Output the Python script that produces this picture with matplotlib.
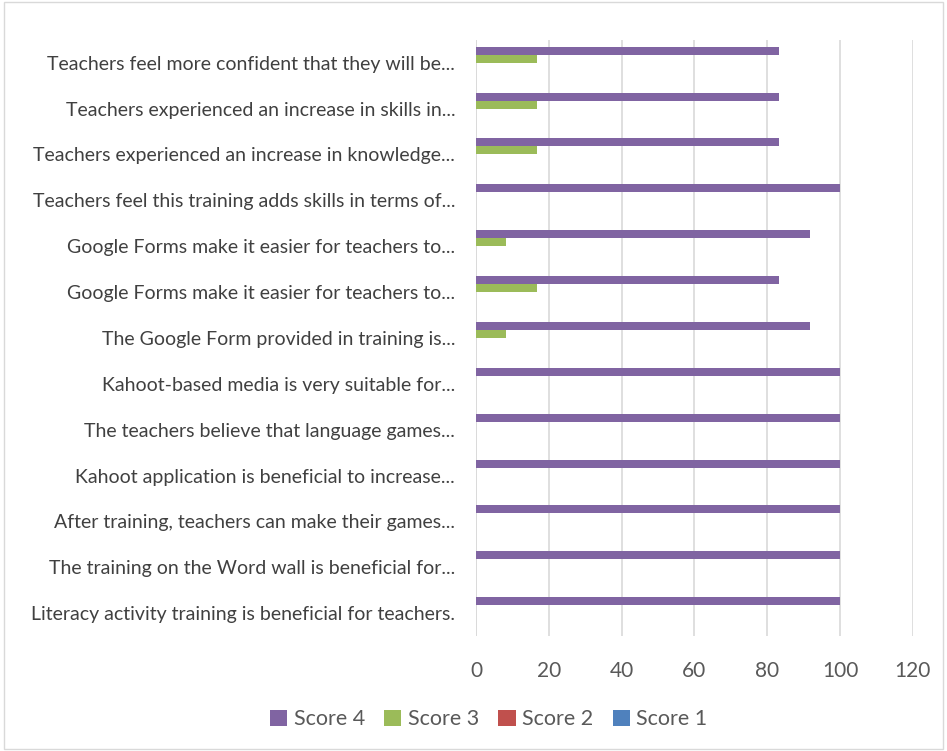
import numpy as np
import matplotlib.pyplot as plt
from matplotlib.patches import Rectangle

plt.rcParams['font.family'] = ['Lato', 'DejaVu Sans']

categories = [
    "Literacy activity training is beneficial for teachers.",
    "The training on the Word wall is beneficial for...",
    "After training, teachers can make their games...",
    "Kahoot application is beneficial to increase...",
    "The teachers believe that language games...",
    "Kahoot-based media is very suitable for...",
    "The Google Form provided in training is...",
    "Google Forms make it easier for teachers to...",
    "Google Forms make it easier for teachers to...",
    "Teachers feel this training adds skills in terms of...",
    "Teachers experienced an increase in knowledge...",
    "Teachers experienced an increase in skills in...",
    "Teachers feel more confident that they will be...",
]
score4 = [100, 100, 100, 100, 100, 100, 91.67, 83.33, 91.67, 100, 83.33, 83.33, 83.33]
score3 = [0, 0, 0, 0, 0, 0, 8.33, 16.67, 8.33, 0, 16.67, 16.67, 16.67]
score2 = [0] * 13
score1 = [0] * 13

series = [("Score 4", score4, "#8064A2"),
          ("Score 3", score3, "#9BBB59"),
          ("Score 2", score2, "#C0504D"),
          ("Score 1", score1, "#4F81BD")]

fig = plt.figure(figsize=(9.47, 7.51), dpi=100)
fig.patches.append(Rectangle((0.004, 0.003), 0.992, 0.994, transform=fig.transFigure,
                             fill=False, edgecolor="#D9D9D9", linewidth=1))
ax = fig.add_axes([0.5026, 0.153, 0.4614, 0.794])

y = np.arange(len(categories))
h = 0.175
offsets = [1.5 * h, 0.5 * h, -0.5 * h, -1.5 * h]
for (name, vals, color), off in zip(series, offsets):
    ax.barh(y + off, vals, height=h, color=color, label=name, zorder=3)

ax.set_xlim(0, 120)
ax.set_ylim(-0.5, len(categories) - 0.5)
ax.set_xticks(np.arange(0, 121, 20))
ax.set_yticks(y)
ax.set_yticklabels(categories, fontsize=14, color="#404040")
ax.tick_params(axis='x', labelsize=15, colors="#595959", length=0, pad=18)
ax.tick_params(axis='y', length=0, pad=15)
ax.grid(axis='x', color="#D9D9D9", linewidth=1.2, zorder=0)
for s in ax.spines.values():
    s.set_visible(False)
ax.axvline(0, color="#D9D9D9", linewidth=1.2, zorder=1)

handles, labels = ax.get_legend_handles_labels()
fig.legend(handles, labels, loc="center", bbox_to_anchor=(0.516, 0.042), ncol=4,
           frameon=False, fontsize=15.5, handlelength=0.8, handleheight=0.8,
           handletextpad=0.3, columnspacing=0.9, labelcolor="#595959")

fig.savefig("out.png", dpi=100)
